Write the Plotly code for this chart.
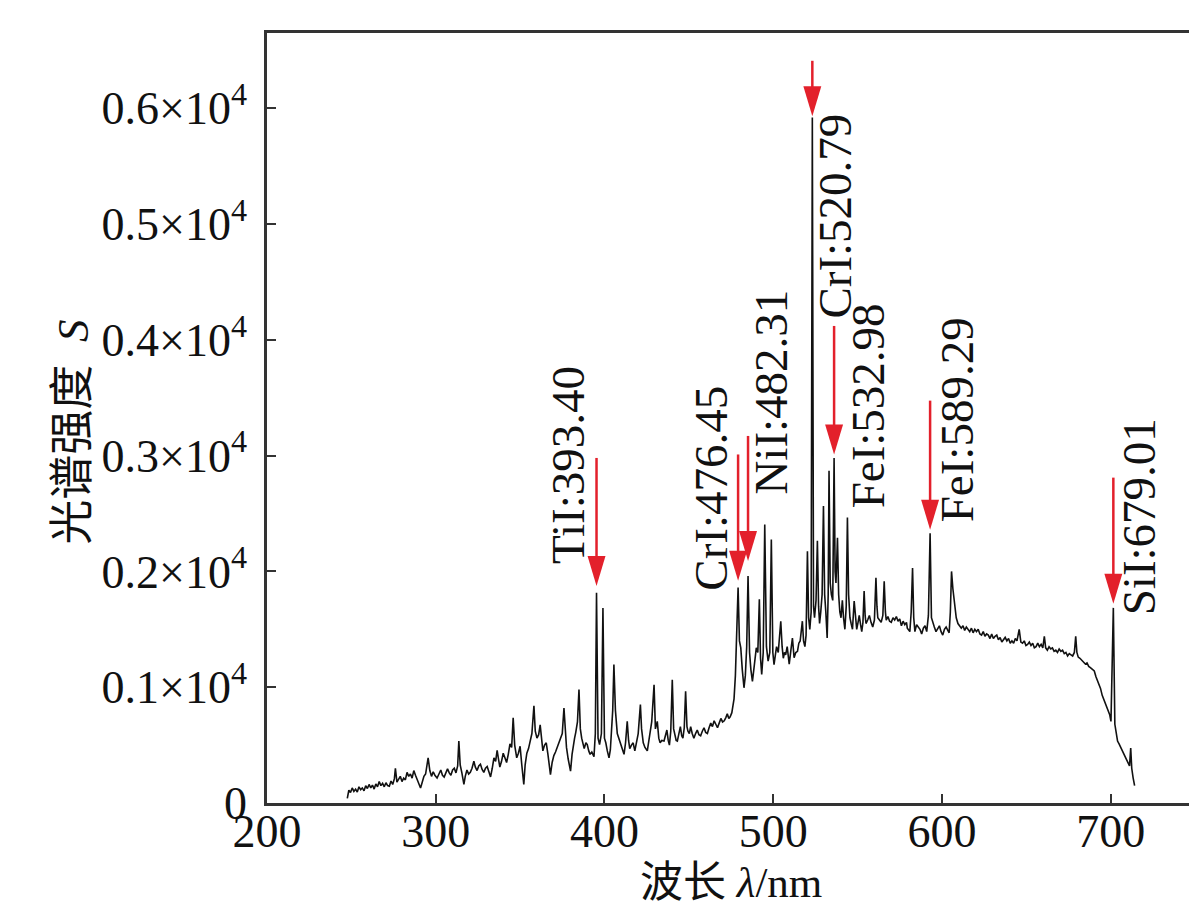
import plotly.graph_objects as go

# ---- spectrum data [wavelength nm, intensity], by region ----
spec_uv = [
    [247.6, 40], [248.5, 110], [249.5, 90], [250.5, 130], [251.5, 100], [252.5, 120], [253.5, 95],
    [254.5, 140], [255.5, 115], [256.5, 130], [257.5, 105], [258.5, 150], [259.5, 125], [260.5, 160],
    [261.5, 130], [262.5, 155], [263.5, 120], [264.5, 165], [265.5, 140], [266.5, 185], [267.5, 150],
    [268.5, 170], [269.5, 140], [270.5, 175], [271.5, 150], [272.5, 145], [273.5, 190], [274.5, 160],
    [275.5, 210], [276.1, 300], [277, 180], [278, 200], [279, 230], [280, 185], [281, 215], [282, 200],
    [283, 265], [284, 230], [285, 250], [286, 215], [287, 280], [288, 240], [289, 200], [290, 170],
    [291, 130], [292, 180], [293, 230], [294, 250], [295.5, 390], [296.5, 280], [297.5, 230],
    [298.5, 270], [299.5, 240], [300.8, 216], [302, 250], [303, 285], [304, 240], [305, 225],
    [306, 260], [307, 295], [308, 260], [309, 240], [310, 285], [311, 300], [312, 260], [313, 320],
    [313.7, 535], [314.5, 330], [315.5, 260], [316.7, 160], [317.5, 230], [318.5, 285], [319.5, 250],
    [320.5, 265], [321.5, 300], [322.6, 360], [323.5, 310], [324.5, 280], [325.5, 320], [326.5, 335],
    [327.5, 290], [328.5, 265], [329.5, 300], [330.5, 315], [331.5, 270], [332.5, 225], [333.5, 300],
    [334.5, 390], [335.5, 360], [336.4, 455], [337.2, 380], [338, 310], [339, 360], [340, 430],
    [341, 390], [342, 350], [343, 420], [344, 510], [345, 480], [345.9, 735], [346.8, 500], [348, 390],
    [349, 430], [350, 490], [351, 330], [352.2, 160], [353, 330], [354, 430], [355, 470], [356, 530],
    [357, 600], [358.2, 840], [359, 620], [360, 560], [361, 590], [361.9, 675], [362.8, 520],
    [363.5, 450], [364.5, 500], [365.5, 520], [366.5, 420], [367.3, 300], [368, 245], [369, 350],
    [370, 410], [371, 440], [372, 480], [373, 520], [374, 565], [375, 600], [376, 820], [376.8, 620],
    [377.5, 480], [378.5, 380], [379.9, 275], [380.8, 420], [381.5, 510], [382.3, 560], [383, 610],
    [384, 700], [384.9, 980], [385.7, 640], [386.5, 560], [387.3, 500], [388, 470], [389, 520],
    [389.8, 505], [390.7, 450], [391.5, 420], [392.5, 440], [393.8, 400], [394.6, 600], [395.3, 1815],
    [396.2, 560], [397.1, 505], [398.2, 600], [399.1, 1685], [400, 560],
]
spec_blue = [
    [400.8, 520], [401.7, 450], [402.7, 390], [403.5, 460], [404.2, 600], [404.9, 800], [405.6, 1195],
    [406.5, 800], [407.6, 600], [408.5, 560], [409.5, 530], [410.5, 480], [411.6, 420], [412.5, 520],
    [413.5, 705], [414.3, 540], [415, 470], [416, 500], [417, 520], [418, 450], [419, 520], [420, 600],
    [421.3, 850], [422, 640], [423, 520], [424, 480], [425.4, 450], [426.2, 530], [427, 620], [428, 700],
    [429.4, 1020], [430.2, 640], [431.3, 705], [432.2, 560], [433, 520], [434, 540], [435.3, 535],
    [436.2, 580], [437, 630], [437.8, 540], [438.5, 500], [439.3, 620], [440.2, 1065], [441, 640],
    [441.8, 580], [442.5, 540], [443.2, 535], [444, 600], [445, 660], [445.8, 580], [446.5, 560],
    [447.3, 650], [448.1, 965], [448.9, 660], [449.5, 620], [450.3, 600], [451.1, 660], [452, 600],
    [453, 560], [454, 600], [455, 630], [456, 590], [457, 580], [458, 620], [459, 650], [460, 610],
    [461, 600], [462, 650], [463, 690], [464, 660], [465, 710], [466, 680], [467, 650], [468, 690],
    [469, 730], [470, 700], [471, 710], [472, 740], [472.8, 770], [473.7, 730], [474.5, 745],
    [475.5, 780], [476.2, 850], [476.8, 900], [477.6, 1100], [478.4, 1425], [479.2, 1860], [480, 1400],
    [480.8, 1340], [481.7, 1150], [482.7, 995], [483.5, 1100], [484.3, 1350], [485.1, 1960],
    [486, 1300], [486.8, 1150], [487.7, 1050], [488.5, 1150], [489.2, 1250], [490, 1340],
    [490.9, 1300], [491.8, 1760], [492.5, 1250], [493.2, 1110], [494.1, 1300], [495, 2405],
    [496, 1350], [497, 1225], [498, 1300], [498.9, 2275], [499.8, 1300], [500.5, 1195], [501.3, 1280],
    [502, 1350], [503, 1300], [503.7, 1400], [504.5, 1570], [505.3, 1350], [506, 1250], [506.7, 1300],
    [507.4, 1280], [508.3, 1350], [509.5, 1200], [510.5, 1320], [511.4, 1425],
]
spec_green = [
    [512.4, 1255], [513.4, 1300], [514.4, 1310], [515.2, 1380], [516, 1400], [516.7, 1480],
    [517.3, 1570], [518, 1400], [518.8, 1350], [519.5, 1450], [520.3, 2175], [521, 1600],
    [521.7, 1500], [522.5, 1650], [523.2, 5920], [523.9, 1700], [524.5, 1600], [525.4, 1750],
    [526.2, 2265], [526.9, 1700], [527.5, 1550], [528.2, 1650], [529, 1800], [529.8, 2565],
    [530.5, 1800], [531.2, 1650], [532, 1425], [532.6, 1800], [533.1, 2870], [533.8, 1900],
    [534.5, 1800], [535.3, 1750], [536.1, 2980], [536.7, 2000], [537.2, 1900], [537.7, 2100],
    [538.1, 2290], [538.8, 1800], [539.5, 1650], [540.2, 1600], [541, 1750], [541.7, 1600],
    [542.5, 1500], [543.3, 1700], [544, 2465], [544.7, 1800], [545.5, 1600], [546.2, 1550],
    [547, 1500], [548, 1745], [548.8, 1580], [549.5, 1500], [550.3, 1560], [551, 1620], [551.8, 1540],
    [552.5, 1480], [553.2, 1560], [553.9, 1830], [554.5, 1620], [555, 1550], [556, 1580], [557, 1620],
    [558, 1560], [559, 1520], [560, 1580], [560.9, 1945], [561.5, 1700], [562, 1600], [563, 1580],
    [564, 1560], [565, 1620], [565.8, 1915], [566.5, 1650], [567, 1580], [568, 1610], [569, 1570],
    [570, 1560], [571, 1600], [572, 1580], [573, 1610], [574, 1570], [575, 1590], [576, 1530],
    [577, 1570], [578, 1540], [579, 1560], [579.5, 1510], [580.2, 1490], [581, 1480], [581.8, 1650],
    [582.6, 2030], [583.3, 1600], [584, 1480], [585, 1540], [586, 1520], [587, 1500], [588, 1460],
    [589, 1510], [590, 1530], [591, 1480], [592, 1620], [593, 2330], [593.8, 1600], [594.5, 1560],
    [595.5, 1520], [596.5, 1480], [597.5, 1510], [598.5, 1530], [599.5, 1480],
]
spec_red = [
    [600.5, 1450], [601.5, 1500], [602.5, 1520], [603.5, 1490], [604.3, 1470], [605, 1650],
    [605.7, 2000], [606.5, 1850], [607.5, 1700], [608.5, 1600], [609.5, 1550], [610.5, 1530],
    [611.5, 1510], [612.5, 1530], [613.5, 1490], [614.5, 1520], [615.5, 1500], [616.5, 1480],
    [617.5, 1510], [618.5, 1470], [619.5, 1500], [620.5, 1480], [621.5, 1500], [622.5, 1460],
    [623.5, 1450], [624.5, 1480], [625.5, 1440], [626.5, 1460], [627.5, 1450], [628.5, 1420],
    [629.5, 1460], [630.5, 1420], [631.5, 1440], [632.5, 1450], [633.5, 1410], [634.5, 1430],
    [635.5, 1390], [636.5, 1410], [637.5, 1430], [638.5, 1400], [639.5, 1420], [640.5, 1380],
    [641.5, 1400], [642.5, 1380], [643.5, 1420], [644.5, 1400], [645.8, 1500], [646.8, 1390],
    [647.8, 1380], [648.8, 1400], [649.8, 1360], [650.8, 1370], [651.8, 1390], [652.8, 1360],
    [653.8, 1380], [654.8, 1340], [655.8, 1350], [656.8, 1380], [657.8, 1350], [658.8, 1370],
    [659.8, 1340], [660.7, 1440], [661.5, 1340], [662.5, 1320], [663.5, 1350], [664.5, 1330],
    [665.5, 1340], [666.5, 1310], [667.5, 1320], [668.5, 1300], [669.5, 1330], [670.5, 1310],
    [671.5, 1320], [672.5, 1290], [673.5, 1300], [674.5, 1270], [675.5, 1290], [676.5, 1280],
    [677.5, 1270], [678.5, 1300], [679.3, 1440], [680, 1300], [680.8, 1260], [681.8, 1250],
    [683, 1230], [684, 1220], [685, 1200], [686, 1210], [687, 1180], [688, 1170], [689, 1160],
    [690.3, 1140], [691.3, 1090], [692.3, 1050], [693.2, 1010], [694, 990], [695, 930], [696.3, 880],
    [697.4, 830], [698.5, 800], [699.5, 760], [700.2, 705], [701.6, 1685], [702.5, 680], [703.3, 600],
    [704.1, 535], [705, 510], [706, 480], [707, 450], [708, 420], [709, 390], [710, 350], [711.2, 320],
    [711.9, 475], [712.5, 300], [713.3, 220], [714.2, 150],
]

# ---- marked emission lines ----
line_labels = ["TiI:393.40", "CrI:476.45", "NiI:482.31", "CrI:520.79",
               "FeI:532.98", "FeI:589.29", "SiI:679.01"]
line_x = [395.3, 479.2, 485.1, 523.2, 536.1, 593.0, 701.6]      # arrow positions (nm)
arrow_tail = [2980, 3010, 3170, 6410, 4120, 3475, 2810]
arrow_tip = [1875, 1920, 2090, 5930, 3010, 2360, 1720]
label_x = [378.5, 462.9, 498.5, 536.1, 555.9, 608.7, 717.0]
label_y = [2920, 2720, 3550, 5065, 3430, 3310, 2470]

# ---- axes ----
x_range = [200, 750]
y_range = [0, 6650]
x_ticks = [200, 300, 400, 500, 600, 700]
y_ticks = [0, 1000, 2000, 3000, 4000, 5000, 6000]
y_ticktext = ["0", "0.1×10<sup>4</sup>", "0.2×10<sup>4</sup>", "0.3×10<sup>4</sup>",
              "0.4×10<sup>4</sup>", "0.5×10<sup>4</sup>", "0.6×10<sup>4</sup>"]
x_title = "波长 <i>λ</i>/nm"
y_title = "光谱强度\u00a0\u00a0<i>S</i>"

spectrum = spec_uv + spec_blue + spec_green + spec_red
wavelength = [p[0] for p in spectrum]
intensity = [p[1] for p in spectrum]

W, H = 1197, 905
M = dict(l=259, r=7, t=25, b=110)
plot_w = W - M["l"] - M["r"]
plot_h = H - M["t"] - M["b"]
px_x = (x_range[1] - x_range[0]) / plot_w   # nm per pixel
px_y = (y_range[1] - y_range[0]) / plot_h   # intensity per pixel

RED = "#e3202b"
INK = "#111111"
SERIF = "Liberation Serif, Times New Roman, Noto Sans CJK SC"

fig = go.Figure()
fig.add_trace(go.Scatter(x=wavelength, y=intensity, mode="lines",
                         line=dict(color=INK, width=1.6), hoverinfo="skip",
                         showlegend=False))

head_len = 30 * px_y
head_half = 9 * px_x
shapes = []
for xa, yt, yp in zip(line_x, arrow_tail, arrow_tip):
    shapes.append(dict(type="line", xref="x", yref="y", x0=xa, x1=xa,
                       y0=yt, y1=yp + head_len * 0.8,
                       line=dict(color=RED, width=2.5)))
    path = (f"M {xa - head_half} {yp + head_len} L {xa + head_half} {yp + head_len} "
            f"L {xa} {yp} Z")
    shapes.append(dict(type="path", xref="x", yref="y", path=path,
                       fillcolor=RED, line=dict(color=RED, width=0)))

annotations = []
for t, lx, ly in zip(line_labels, label_x, label_y):
    annotations.append(dict(x=lx, y=ly, xref="x", yref="y", text=t, textangle=-90,
                            showarrow=False, xanchor="center", yanchor="middle",
                            font=dict(family=SERIF, size=47, color=INK)))
# axis titles
annotations.append(dict(x=(724 - M["l"]) / plot_w, y=(H - M["b"] - 874) / plot_h,
                        xref="paper", yref="paper", text=x_title, showarrow=False,
                        xanchor="center", yanchor="middle",
                        font=dict(family=SERIF, size=43, color=INK)))
annotations.append(dict(x=(64 - M["l"]) / plot_w, y=(H - M["b"] - 424) / plot_h,
                        xref="paper", yref="paper", text=y_title, showarrow=False,
                        textangle=-90, xanchor="center", yanchor="middle",
                        font=dict(family=SERIF, size=45, color=INK)))

fig.update_layout(
    width=W, height=H, margin=M,
    paper_bgcolor="white", plot_bgcolor="white",
    shapes=shapes, annotations=annotations,
    font=dict(family=SERIF, size=46, color=INK),
)
fig.update_xaxes(range=x_range, tickvals=x_ticks, ticks="inside", ticklen=9,
                 tickwidth=2, tickcolor="#333333", showline=True, linewidth=2.5,
                 linecolor="#333333", mirror=True, showgrid=False, zeroline=False,
                 ticklabelstandoff=-14,
                 tickfont=dict(family=SERIF, size=46, color=INK))
fig.update_yaxes(range=y_range, tickvals=y_ticks, ticktext=y_ticktext,
                 ticks="inside", ticklen=9, tickwidth=2, tickcolor="#333333",
                 showline=True, linewidth=2.5, linecolor="#333333", mirror=True,
                 showgrid=False, zeroline=False, ticklabelstandoff=8,
                 tickfont=dict(family=SERIF, size=46, color=INK))

fig.write_html("out.html")
